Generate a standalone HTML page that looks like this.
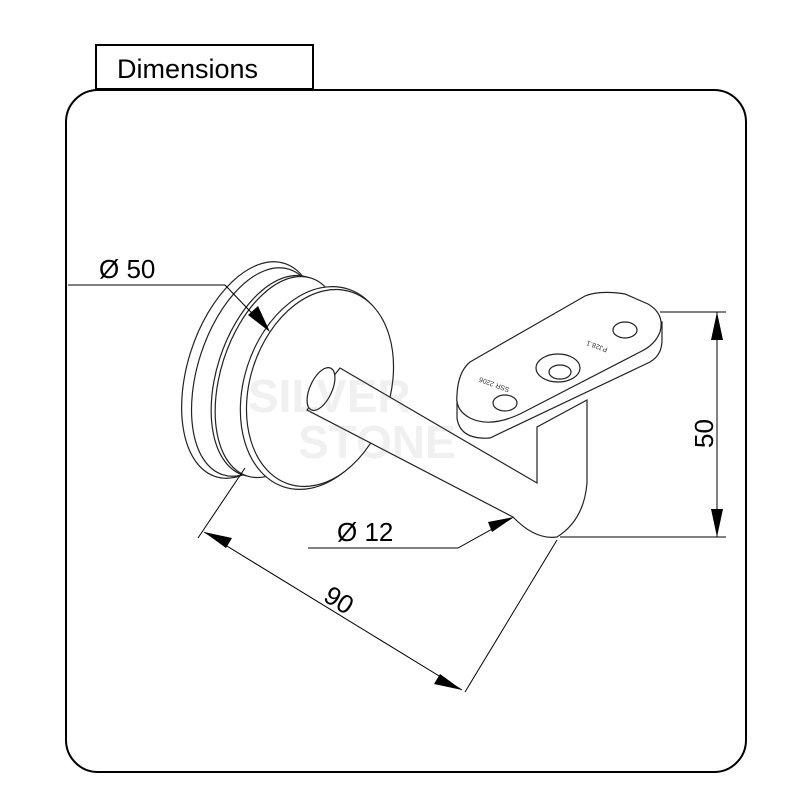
<!DOCTYPE html>
<html><head><style>
html,body{margin:0;padding:0;background:#fff;}
svg{display:block;font-family:"Liberation Sans",Arial,sans-serif;}
</style></head><body>
<svg width="800" height="800" viewBox="0 0 800 800" xmlns="http://www.w3.org/2000/svg">
<rect x="66" y="90" width="680" height="682" rx="32" fill="none" stroke="#000" stroke-width="2"/>
<rect x="96" y="45" width="217" height="44" fill="#fff" stroke="#000" stroke-width="2"/>
<text x="117" y="78" font-size="27" fill="#000">Dimensions</text>

<g fill="#fff" stroke="#222" stroke-width="1.2">
<!-- back disc -->
<ellipse cx="250" cy="370" rx="62" ry="112" transform="rotate(18 250 370)"/>
<ellipse cx="256" cy="372" rx="58" ry="108" transform="rotate(18 256 372)"/>
<ellipse cx="275" cy="376" rx="58" ry="104" transform="rotate(18 275 376)"/>
<ellipse cx="279" cy="377" rx="58" ry="104" transform="rotate(18 279 377)"/>
<!-- front disc -->
<ellipse cx="316" cy="388" rx="72" ry="104" transform="rotate(18 316 388)"/>
<ellipse cx="320" cy="388" rx="70" ry="101" transform="rotate(18 320 388)"/>
<!-- rod -->
<path d="M340,368 L537,483 L537,427 L587,400 L587,483 Q584,520 557,537 Q535,540 513,517 L307,410 Z"/>
<ellipse cx="321" cy="389" rx="11" ry="23" transform="rotate(25 321 389)"/>
<!-- plate -->
<path d="M457,400 L457,418 Q460,440 490,438 L650,362 Q662,355 662,340 L662,322 Z"/>
<path d="M470,362 L585,296 Q600,290 625,294 L648,304 Q665,314 660,332 Q655,345 640,352 L520,414 Q490,428 470,418 Q455,410 457,395 Q458,372 470,362 Z"/>
<ellipse cx="505" cy="403" rx="12" ry="8"/>
<ellipse cx="558" cy="368" rx="22" ry="14"/>
<ellipse cx="560" cy="372" rx="11" ry="7"/>
<ellipse cx="625" cy="330" rx="12" ry="8"/>
</g>
<text x="510" y="388" font-size="7" fill="#333" transform="rotate(200 510 388)">SSR 2206</text>
<text x="608" y="348" font-size="7" fill="#333" transform="rotate(200 608 348)">PJ28.1</text>

<!-- watermark -->
<g opacity="0.12" font-weight="bold" font-size="46" fill="#888">
<text x="248" y="412">SILVER</text>
<text x="298" y="458">STONE</text>
</g>

<g stroke="#000" stroke-width="1" fill="none">
<path d="M68,285 L225,285 L268,330"/>
<path d="M308,548 L458,548 L512,518"/>
<line x1="245" y1="468" x2="198" y2="538"/>
<line x1="557" y1="540" x2="465" y2="692"/>
<line x1="204" y1="532" x2="462" y2="690"/>
<line x1="660" y1="312" x2="726" y2="312"/>
<line x1="560" y1="537" x2="726" y2="537"/>
<line x1="717" y1="312" x2="717" y2="537"/>
</g>
<g fill="#000">
<polygon points="270,332 248,315 258,306"/>
<polygon points="514,517 488,522 492,532"/>
<polygon points="204,532 232,538 226,548"/>
<polygon points="462,690 434,684 440,674"/>
<polygon points="717,312 711,340 723,340"/>
<polygon points="717,537 711,509 723,509"/>
</g>
<text x="99" y="278" font-size="26">Ø 50</text>
<text x="337" y="541" font-size="26">Ø 12</text>
<text x="0" y="0" font-size="26" transform="translate(322,600) rotate(32)">90</text>
<text x="0" y="0" font-size="26" transform="translate(713,448) rotate(-90)">50</text>
</svg>
</body></html>
